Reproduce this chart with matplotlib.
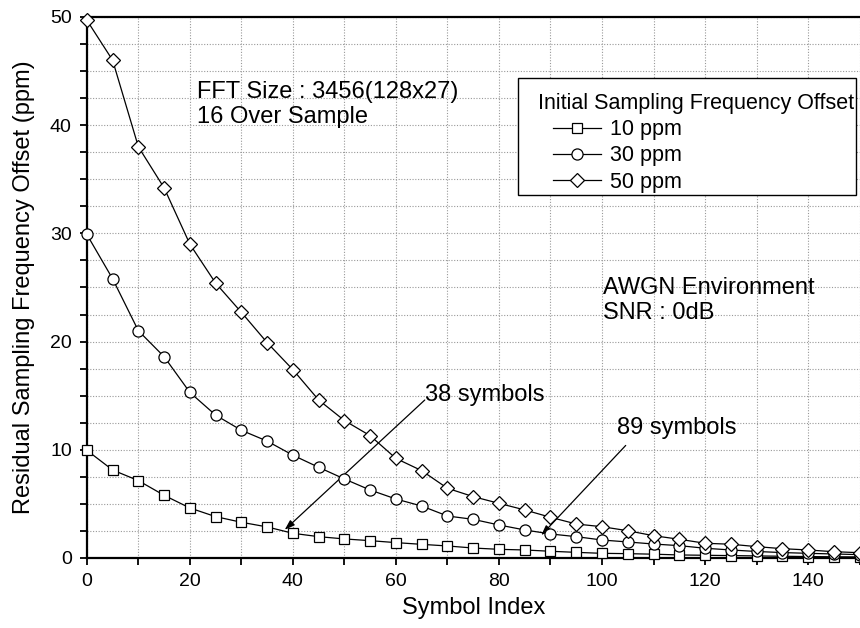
import numpy as np
import matplotlib
matplotlib.use("Agg")
import matplotlib.pyplot as plt
from matplotlib.ticker import MultipleLocator
from matplotlib.offsetbox import DrawingArea

plt.rcParams["font.family"] = ["Liberation Sans", "DejaVu Sans"]

symbols = np.arange(0, 151, 5)

sfo_10 = [9.95, 8.13, 7.15, 5.79, 4.62, 3.82, 3.30, 2.87, 2.28, 1.97, 1.76,
          1.60, 1.42, 1.26, 1.11, 0.92, 0.80, 0.74, 0.62, 0.52, 0.43, 0.40,
          0.35, 0.28, 0.25, 0.22, 0.19, 0.16, 0.13, 0.11, 0.10]
sfo_30 = [29.9, 25.8, 21.0, 18.6, 15.3, 13.2, 11.8, 10.8, 9.5, 8.38, 7.3,
          6.28, 5.45, 4.8, 3.88, 3.57, 3.05, 2.59, 2.22, 1.97, 1.66, 1.48,
          1.29, 1.14, 0.90, 0.74, 0.60, 0.50, 0.43, 0.37, 0.31]
sfo_50 = [49.7, 46.0, 38.0, 34.2, 29.0, 25.4, 22.7, 19.9, 17.4, 14.6, 12.7,
          11.3, 9.2, 8.07, 6.44, 5.67, 5.05, 4.44, 3.76, 3.14, 2.89, 2.52,
          2.06, 1.73, 1.36, 1.27, 1.05, 0.86, 0.74, 0.58, 0.49]

fig = plt.figure(figsize=(8.6, 6.28), dpi=100)
ax = fig.add_axes([0.101, 0.1115, 0.8985, 0.8615])

style = dict(color="black", lw=0.9, markerfacecolor="white",
             markeredgecolor="black", markeredgewidth=0.9, clip_on=False)
ax.plot(symbols, sfo_10, marker="s", ms=6.5, label="10 ppm", zorder=4, **style)
ax.plot(symbols, sfo_30, marker="o", ms=8, label="30 ppm", zorder=4, **style)
ax.plot(symbols, sfo_50, marker="D", ms=7.5, label="50 ppm", zorder=4, **style)

ax.set_xlim(0, 150)
ax.set_ylim(0, 50)
ax.xaxis.set_major_locator(MultipleLocator(20))
ax.xaxis.set_minor_locator(MultipleLocator(10))
ax.yaxis.set_major_locator(MultipleLocator(10))
ax.yaxis.set_minor_locator(MultipleLocator(2.5))
ax.tick_params(which="both", direction="out", length=4.8, width=1.3,
               labelsize=14, pad=6)
ax.grid(which="both", color="#999999", linestyle=(0, (1, 1.5)), lw=0.8)
ax.set_axisbelow(True)

for side in ["left", "bottom", "top"]:
    ax.spines[side].set_linewidth(1.6)
ax.spines["right"].set_visible(False)

ax.set_xlabel("Symbol Index", fontsize=17, labelpad=5)
ax.set_ylabel("Residual Sampling Frequency Offset (ppm)", fontsize=17, labelpad=11)

ax.text(21.3, 41.9, "FFT Size : 3456(128x27)\n16 Over Sample", fontsize=17,
        va="center", ha="left", linespacing=1.2)
ax.text(100.1, 23.8, "AWGN Environment\nSNR : 0dB", fontsize=17,
        va="center", ha="left", linespacing=1.2)

arrow = dict(arrowstyle="-|>,head_length=0.6,head_width=0.2", color="black",
             lw=0.9, shrinkA=0, shrinkB=0)
ax.text(65.6, 15.1, "38 symbols", fontsize=17, va="center", ha="left")
ax.annotate("", xy=(38.4, 2.6), xytext=(65.6, 14.6), arrowprops=arrow)
ax.text(103.0, 12.0, "89 symbols", fontsize=17, va="center", ha="left")
ax.annotate("", xy=(88.2, 2.1), xytext=(104.6, 10.4), arrowprops=arrow)

leg = ax.legend(title="   Initial Sampling Frequency Offset", loc="upper right",
                bbox_to_anchor=(0.996, 0.888), fontsize=15.5, title_fontsize=15.5,
                frameon=True, fancybox=False, framealpha=1, edgecolor="black",
                handlelength=2.25, handletextpad=0.4, labelspacing=0.25,
                borderpad=0.1, borderaxespad=0, columnspacing=0)
leg._legend_box.align = "left"
# indent the entries under the title and leave room above the title
leg._legend_handle_box._children.insert(0, DrawingArea(23.5, 0))
leg._legend_box._children.insert(0, DrawingArea(0, 5.5))
leg.get_frame().set_linewidth(1.0)

fig.savefig("out.png", dpi=100)
